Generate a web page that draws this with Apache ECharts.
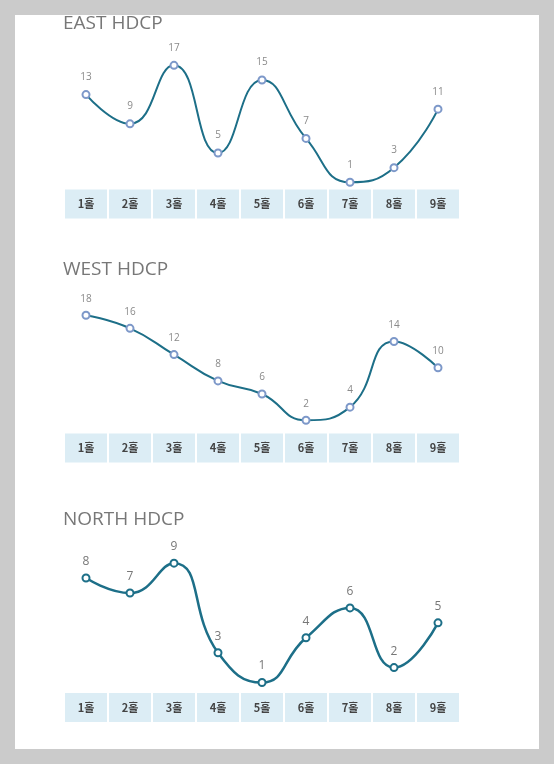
<!DOCTYPE html>
<html>
<head>
<meta charset="utf-8">
<script src="https://cdn.jsdelivr.net/npm/echarts@6/dist/echarts.min.js"></script>
<style>
    body { margin: 0; background: #cbcbcb; }
    #card { position: absolute; left: 15px; top: 15px; width: 524px; height: 734px; background: #fff; }
    #main { position: absolute; left: 0; top: 0; width: 554px; height: 764px; }
</style>
</head>
<body>
<div id="card"></div>
<div id="main"></div>
<script>
var holes = ['1홀', '2홀', '3홀', '4홀', '5홀', '6홀', '7홀', '8홀', '9홀'];
var titles = ['EAST HDCP', 'WEST HDCP', 'NORTH HDCP'];
var eastHdcp = [13, 9, 17, 5, 15, 7, 1, 3, 11];
var westHdcp = [18, 16, 12, 8, 6, 2, 4, 14, 10];
var northHdcp = [8, 7, 9, 3, 1, 4, 6, 2, 5];

var lineColor = '#1d6f88';

// one block per course: title top, grid top/height, y range
var blocks = [
    {data: eastHdcp, titleTop: 9, top: 43.4, height: 146.2, min: 0, max: 20, dist: 8},
    {data: westHdcp, titleTop: 255, top: 302.1, height: 131.3, min: 0, max: 20, dist: 7},
    {data: northHdcp, titleTop: 505, top: 548.2, height: 144.8, min: 0.3, max: 10, dist: 6}
];

var option = {
    animation: false,
    title: [],
    grid: [],
    xAxis: [],
    yAxis: [],
    series: []
};

for (var i = 0; i < blocks.length; i++) {
    var b = blocks[i];
    var north = (i === 2);
    option.title.push({
        text: titles[i],
        left: 58,
        top: b.titleTop,
        textStyle: {fontFamily: 'Open Sans', fontSize: 19, fontWeight: 'normal', color: '#777'}
    });
    option.grid.push({left: 64, width: 396, top: b.top, height: b.height});
    option.xAxis.push({
        type: 'category',
        gridIndex: i,
        data: holes,
        boundaryGap: true,
        axisLine: {show: false},
        axisTick: {show: false},
        axisLabel: {
            margin: 0,
            interval: 0,
            width: 42,
            height: 29,
            lineHeight: 29,
            align: 'center',
            verticalAlign: 'top',
            backgroundColor: '#dcedf5',
            color: '#444',
            fontWeight: 'bold',
            fontSize: 11,
            fontFamily: 'Noto Sans CJK KR'
        }
    });
    option.yAxis.push({
        type: 'value',
        gridIndex: i,
        min: b.min,
        max: b.max,
        show: false
    });
    option.series.push({
        type: 'line',
        xAxisIndex: i,
        yAxisIndex: i,
        data: b.data,
        smooth: true,
        symbol: 'emptyCircle',
        symbolSize: 7,
        lineStyle: {color: lineColor, width: north ? 2.5 : 2},
        // emptyCircle strokes with the item colour
        itemStyle: {color: north ? lineColor : '#7d98c9', borderWidth: 1.5},
        label: {
            show: true,
            position: 'top',
            distance: b.dist,
            color: north ? '#777' : '#8a8a8a',
            fontSize: north ? 12 : 10,
            fontFamily: 'Open Sans'
        }
    });
}

var chart = echarts.init(document.getElementById('main'));
chart.setOption(option);
</script>
</body>
</html>
